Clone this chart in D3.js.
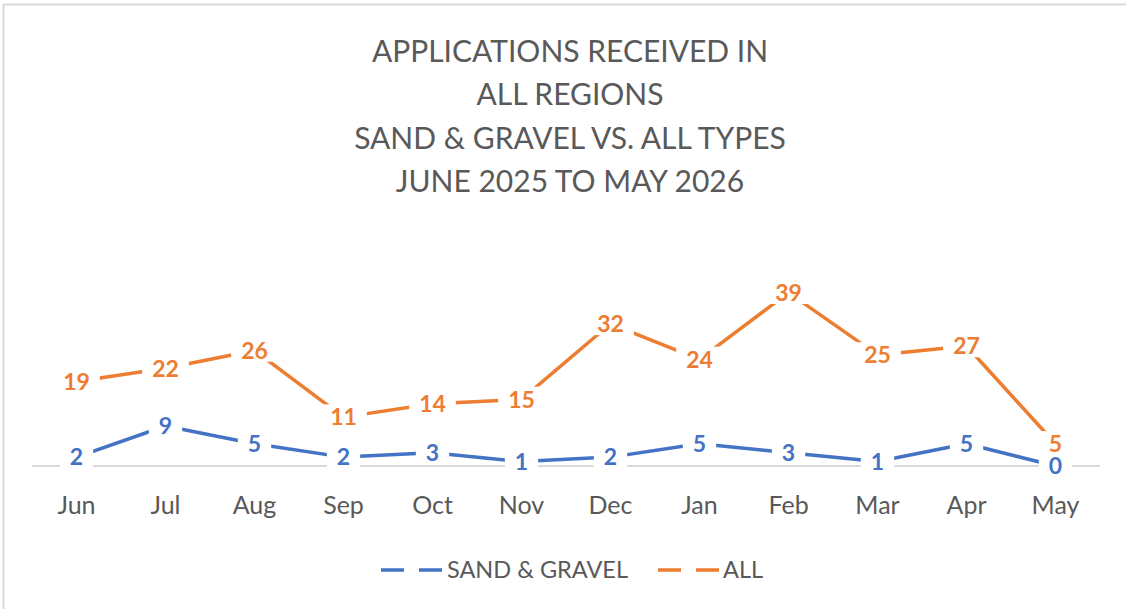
<!DOCTYPE html>
<html>
<head>
<meta charset="utf-8">
<script src="https://cdn.jsdelivr.net/npm/d3@7"></script>
<style>
  body { margin: 0; background: #fff; }
  svg { display: block; font-family: Lato, "Open Sans", sans-serif; }
</style>
</head>
<body>
<div class="chart-container"></div>
<script>
var months = ['Jun', 'Jul', 'Aug', 'Sep', 'Oct', 'Nov', 'Dec', 'Jan', 'Feb', 'Mar', 'Apr', 'May'];
var sandGravel = [2, 9, 5, 2, 3, 1, 2, 5, 3, 1, 5, 0];
var allTypes = [19, 22, 26, 11, 14, 15, 32, 24, 39, 25, 27, 5];
var seriesNames = ['SAND & GRAVEL', 'ALL'];
var titleLines = ['APPLICATIONS RECEIVED IN', 'ALL REGIONS', 'SAND & GRAVEL VS. ALL TYPES', 'JUNE 2025 TO MAY 2026'];

var width = 1126, height = 609;
var colors = ['#4472C4', '#ED7D31'];

var svg = d3.select('.chart-container').append('svg')
    .attr('width', width)
    .attr('height', height);

// chart frame
svg.append('rect')
    .attr('x', 3.5).attr('y', 4.5)
    .attr('width', 1140).attr('height', 620)
    .attr('fill', '#fff')
    .attr('stroke', '#d9d9d9')
    .attr('stroke-width', 2);

// title
svg.append('g').selectAll('text')
    .data(titleLines)
  .enter().append('text')
    .attr('x', 570)
    .attr('y', function (d, i) { return 62 + i * 43.3; })
    .attr('text-anchor', 'middle')
    .attr('fill', '#595959')
    .style('font-size', '30px')
    .text(function (d) { return d; });

var x = d3.scaleBand()
    .domain(months)
    .range([32, 1100]);

var y = d3.scaleLinear()
    .domain([0, 45])
    .range([466, 266]);

// baseline gridline
svg.append('line')
    .attr('x1', 32).attr('x2', 1100)
    .attr('y1', y(0)).attr('y2', y(0))
    .attr('stroke', '#d9d9d9')
    .attr('stroke-width', 2);

// x axis labels
var xAxis = d3.axisBottom(x).tickSize(0).tickPadding(0);
var gx = svg.append('g')
    .attr('transform', 'translate(0,' + 496 + ')')
    .call(xAxis);
gx.select('.domain').remove();
gx.selectAll('text')
    .attr('dy', '0.71em')
    .attr('y', 0)
    .attr('fill', '#595959')
    .style('font-family', 'Lato, "Open Sans", sans-serif')
    .style('font-size', '25px');

var line = d3.line()
    .x(function (d, i) { return x(months[i]) + x.bandwidth() / 2; })
    .y(function (d) { return y(d); });

var allSeries = [sandGravel, allTypes];

allSeries.forEach(function (values, s) {
  svg.append('path')
      .datum(values)
      .attr('fill', 'none')
      .attr('stroke', colors[s])
      .attr('stroke-width', 3.5)
      .attr('stroke-linejoin', 'round')
      .attr('d', line);
});

// data labels with white backing so lines break around them
allSeries.forEach(function (values, s) {
  var g = svg.append('g');
  values.forEach(function (v, i) {
    var lg = g.append('g')
        .attr('transform', 'translate(' + (x(months[i]) + x.bandwidth() / 2) + ',' + y(v) + ')');
    var t = lg.append('text')
        .attr('text-anchor', 'middle')
        .attr('dy', '0.36em')
        .attr('fill', colors[s])
        .style('font-size', '23px')
        .style('font-weight', 'bold')
        .text(v);
    var bb = t.node().getBBox();
    lg.insert('rect', 'text')
        .attr('x', bb.x - 10).attr('y', bb.y + 2)
        .attr('width', bb.width + 20).attr('height', bb.height - 4)
        .attr('fill', '#fff');
  });
});

// legend
var legendItems = [
  {name: seriesNames[0], color: colors[0], x: 381, tx: 447},
  {name: seriesNames[1], color: colors[1], x: 658, tx: 723}
];
var legend = svg.append('g');
legendItems.forEach(function (d) {
  legend.append('line')
      .attr('x1', d.x).attr('x2', d.x + 61)
      .attr('y1', 570).attr('y2', 570)
      .attr('stroke', d.color)
      .attr('stroke-width', 3.5)
      .attr('stroke-dasharray', '23,15');
  legend.append('text')
      .attr('x', d.tx).attr('y', 570)
      .attr('dy', '0.36em')
      .attr('fill', '#595959')
      .style('font-size', '23.5px')
      .text(d.name);
});
</script>
</body>
</html>
